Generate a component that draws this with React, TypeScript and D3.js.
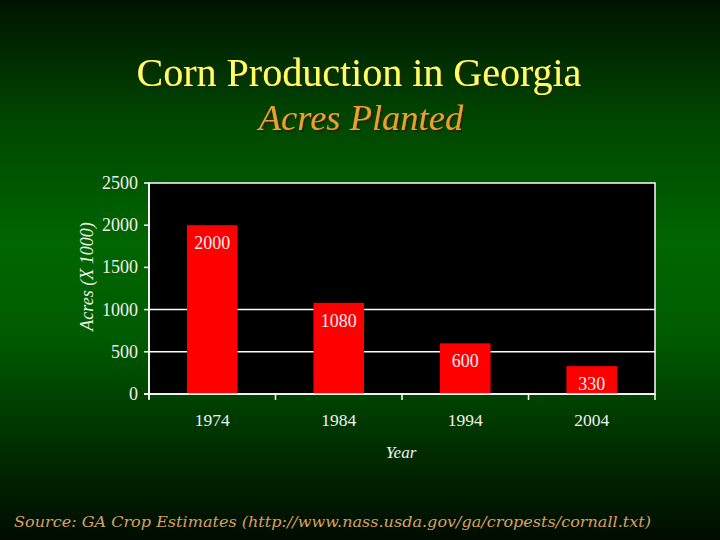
import React from "react";
import * as d3 from "d3";

const years = ["1974", "1984", "1994", "2004"];
const acres = [2000, 1080, 600, 330];
const yTicks = [0, 500, 1000, 1500, 2000, 2500];
const gridValues = [500, 1000];

const W = 720, H = 540;
const M = { left: 149, right: 655, top: 183, bottom: 394 };

export default function App() {
  const x = d3.scaleBand<string>().domain(years).range([M.left, M.right]).paddingInner(0).paddingOuter(0);
  const y = d3.scaleLinear().domain([0, 2500]).range([M.bottom, M.top]);
  const bw = x.bandwidth() * 0.4;
  const serif = "'Liberation Serif', 'Times New Roman', serif";
  const boundaries = [M.left, ...years.map((d) => (x(d) as number) + x.bandwidth())];
  return (
    <svg width={W} height={H} style={{ position: "absolute", left: 0, top: 0 }}>
      <defs>
        <linearGradient id="bg" x1="0" y1="0" x2="0" y2="1">
          <stop offset="0" stopColor="#001400" />
          <stop offset="0.22" stopColor="#004600" />
          <stop offset="0.45" stopColor="#006600" />
          <stop offset="0.62" stopColor="#005c00" />
          <stop offset="0.82" stopColor="#003000" />
          <stop offset="1" stopColor="#000c00" />
        </linearGradient>
        <filter id="shadow" x="-10%" y="-30%" width="120%" height="160%">
          <feDropShadow dx="2" dy="2" stdDeviation="0.6" floodColor="#222200" floodOpacity="0.9" />
        </filter>
      </defs>
      <rect x={0} y={0} width={W} height={H} fill="url(#bg)" />
      {/* Title */}
      <text x={359} y={86} textAnchor="middle" fontFamily={serif} fontSize={40} fill="#ffff66" filter="url(#shadow)">Corn Production in Georgia</text>
      <text x={361} y={130} textAnchor="middle" fontFamily={serif} fontSize={36.5} fontStyle="italic" fill="#e8a030" filter="url(#shadow)">Acres Planted</text>
      {/* Plot area */}
      <rect x={M.left} y={M.top} width={M.right - M.left} height={M.bottom - M.top} fill="#000" stroke="#ffffff" strokeWidth={1.5} />
      {gridValues.map((v) => (
        <line key={v} x1={M.left} x2={M.right} y1={y(v)} y2={y(v)} stroke="#ffffff" strokeWidth={1.5} />
      ))}
      {years.map((yr, i) => (
        <g key={yr}>
          <rect
            x={(x(yr) as number) + (x.bandwidth() - bw) / 2}
            y={y(acres[i])}
            width={bw}
            height={M.bottom - y(acres[i])}
            fill="#ff0000"
          />
          <text
            x={(x(yr) as number) + x.bandwidth() / 2}
            y={y(acres[i]) + 24}
            textAnchor="middle"
            fontFamily={serif}
            fontSize={18}
            fill="#f4eef0"
          >
            {acres[i]}
          </text>
        </g>
      ))}
      {/* Axes */}
      <line x1={M.left} x2={M.left} y1={M.top} y2={M.bottom + 5} stroke="#fff" strokeWidth={1.5} />
      <line x1={M.left - 5} x2={M.right} y1={M.bottom} y2={M.bottom} stroke="#fff" strokeWidth={1.5} />
      {yTicks.map((t) => (
        <g key={t}>
          <line x1={M.left - 5} x2={M.left} y1={y(t)} y2={y(t)} stroke="#fff" strokeWidth={1.5} />
          <text x={M.left - 11} y={y(t) + 6} textAnchor="end" fontFamily={serif} fontSize={18} fill="#f0f0e8">{t}</text>
        </g>
      ))}
      {boundaries.map((b, i) => (
        <line key={i} x1={b} x2={b} y1={M.bottom} y2={M.bottom + 6} stroke="#fff" strokeWidth={1.5} />
      ))}
      {years.map((yr) => (
        <text key={yr} x={(x(yr) as number) + x.bandwidth() / 2} y={426} textAnchor="middle" fontFamily={serif} fontSize={17.5} fill="#f0f0e8">{yr}</text>
      ))}
      <text x={401} y={458} textAnchor="middle" fontFamily={serif} fontSize={17} fontStyle="italic" fill="#f0f0e8">Year</text>
      <text transform={`translate(93,${(M.top + M.bottom) / 2 - 12}) rotate(-90)`} textAnchor="middle" fontFamily={serif} fontSize={18} fontStyle="italic" fill="#f0f0e8">Acres (X 1000)</text>
      {/* Source */}
      <text x={14} y={527} fontFamily="'DejaVu Serif', serif" fontSize={15.5} fontStyle="italic" fill="#d8a060" textLength={637} lengthAdjust="spacingAndGlyphs">Source: GA Crop Estimates (http://www.nass.usda.gov/ga/cropests/cornall.txt)</text>
    </svg>
  );
}
